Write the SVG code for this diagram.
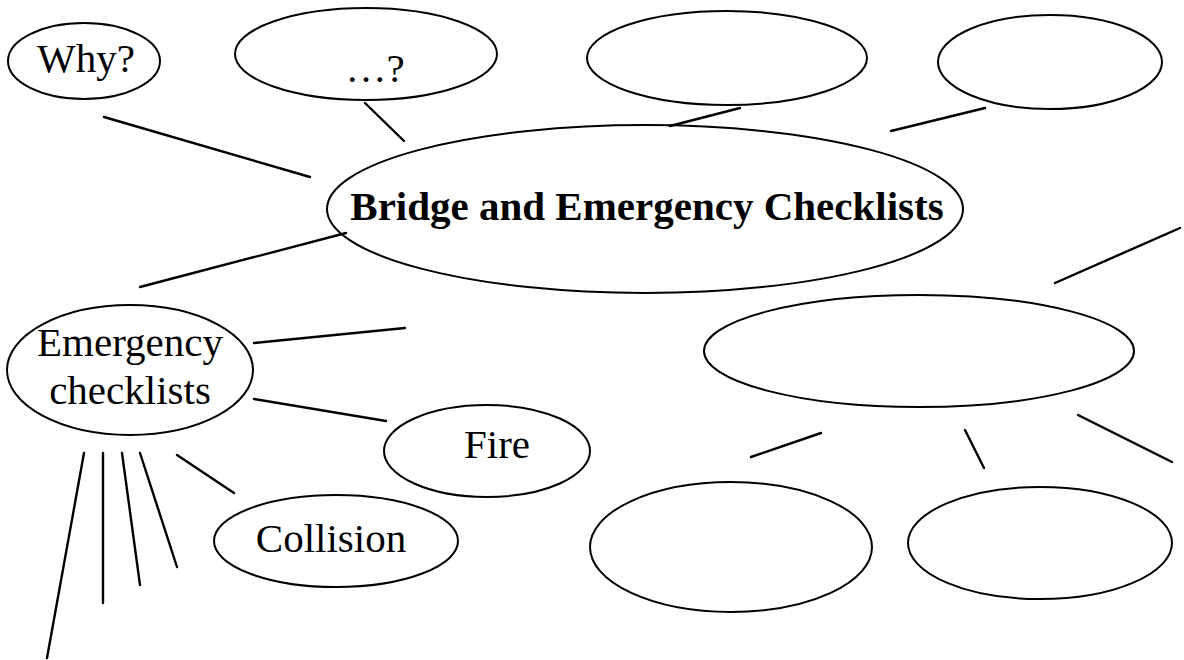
<svg xmlns="http://www.w3.org/2000/svg" width="1184" height="660" viewBox="0 0 1184 660">
<style>
.n{fill:none;stroke:#000;stroke-width:2}
.c line{stroke:#000;stroke-width:2.4;stroke-linecap:round}
.t{font-family:"Liberation Serif","Times New Roman",serif;font-size:41px;fill:#000;text-anchor:middle}
.b{font-weight:bold;font-size:41px}
</style>
<rect width="1184" height="660" fill="#fff"/>
<g id="connectors" class="c">
<line x1="104" y1="117" x2="310" y2="177"/>
<line x1="365" y1="103" x2="404" y2="141"/>
<line x1="740" y1="108" x2="670" y2="126"/>
<line x1="985" y1="108" x2="891" y2="131"/>
<line x1="1055" y1="283" x2="1180" y2="228"/>
<line x1="346" y1="233" x2="140" y2="287"/>
<line x1="254" y1="343" x2="405" y2="328"/>
<line x1="254" y1="399" x2="386" y2="421"/>
<line x1="177" y1="455" x2="234" y2="493"/>
<line x1="84" y1="453" x2="47" y2="658"/>
<line x1="103" y1="453" x2="103" y2="603"/>
<line x1="122" y1="453" x2="140" y2="585"/>
<line x1="140" y1="453" x2="177" y2="567"/>
<line x1="821" y1="433" x2="751" y2="457"/>
<line x1="965" y1="430" x2="984" y2="468"/>
<line x1="1078" y1="415" x2="1172" y2="462"/>
</g>
<g id="why"><ellipse class="n" cx="84" cy="61" rx="76" ry="38"/><text class="t" x="86" y="72">Why?</text></g>
<g id="question"><ellipse class="n" cx="366" cy="54" rx="131" ry="46"/><text class="t" x="375" y="82">…?</text></g>
<g id="top-center"><ellipse class="n" cx="727" cy="58" rx="140" ry="47"/></g>
<g id="top-right"><ellipse class="n" cx="1050" cy="62" rx="112" ry="47"/></g>
<g id="main"><ellipse class="n" cx="645" cy="209" rx="318" ry="84"/><text class="t b" x="647" y="220">Bridge and Emergency Checklists</text></g>
<g id="right-mid"><ellipse class="n" cx="919" cy="351" rx="215" ry="56"/></g>
<g id="emergency"><ellipse class="n" cx="130" cy="370" rx="123" ry="65"/><text class="t" x="130" y="356">Emergency</text><text class="t" x="130" y="404">checklists</text></g>
<g id="fire"><ellipse class="n" cx="487" cy="451" rx="103" ry="46"/><text class="t" x="497" y="458">Fire</text></g>
<g id="collision"><ellipse class="n" cx="336" cy="541" rx="122" ry="46"/><text class="t" x="331" y="552">Collision</text></g>
<g id="bottom-left"><ellipse class="n" cx="731" cy="547" rx="141" ry="65"/></g>
<g id="bottom-right"><ellipse class="n" cx="1040" cy="543" rx="132" ry="56"/></g>
</svg>
